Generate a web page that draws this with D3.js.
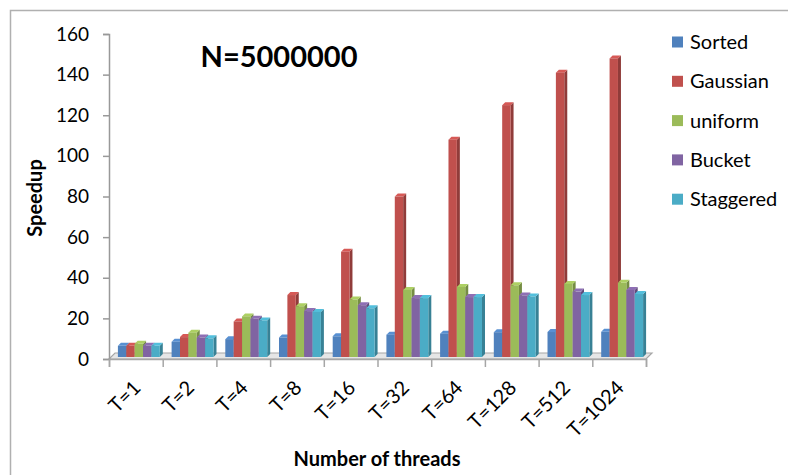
<!DOCTYPE html>
<html>
<head>
<meta charset="utf-8">
<style>
  body { margin: 0; background: white; }
  svg { display: block; font-family: Lato, "Open Sans", sans-serif; }
</style>
</head>
<body>
<svg width="788" height="475"></svg>
<script src="https://cdn.jsdelivr.net/npm/d3@7"></script>
<script>
// data
var categories = ["T=1", "T=2", "T=4", "T=8", "T=16", "T=32", "T=64", "T=128", "T=512", "T=1024"];
var seriesNames = ["Sorted", "Gaussian", "uniform", "Bucket", "Staggered"];
var sorted    = [5.5, 7.5, 8.8, 9.6, 10.2, 11, 11.5, 12.2, 12.3, 12.4];
var gaussian  = [5.5, 9.8, 17.5, 30.5, 51.8, 79, 107, 124, 140, 147];
var uniform   = [6.5, 12, 20, 25, 28.3, 33, 34.5, 35.3, 36, 36.5];
var bucket    = [5.5, 9.6, 18.8, 22.6, 25.5, 29, 29.5, 30.3, 32.2, 33];
var staggered = [5.5, 9.2, 18, 22.2, 24, 29, 29.5, 29.8, 30.5, 31];
var colors = ["#4F81BD", "#C0504D", "#9BBB59", "#8064A2", "#4BACC6"];
var yTicks = [0, 20, 40, 60, 80, 100, 120, 140, 160];

var values = [sorted, gaussian, uniform, bucket, staggered];

var svg = d3.select("svg");

// frame
svg.append("path")
    .attr("d", "M10.5,475V10.5H788")
    .attr("fill", "none")
    .attr("stroke", "#b0b0b0")
    .attr("stroke-width", 1.5);

var plotLeft = 109, plotRight = 646, plotTop = 34, plotBottom = 359;
var depth = 4;

var x = d3.scaleBand().domain(categories).range([plotLeft, plotRight])
    .paddingInner(0.22).paddingOuter(0.11);
var xs = d3.scaleBand().domain(seriesNames).range([0, x.bandwidth()]);
var y = d3.scaleLinear().domain([0, 160]).range([plotBottom, plotTop]);

// floor
svg.append("path")
    .attr("d", "M" + plotLeft + "," + plotBottom + "L" + (plotLeft + depth + 2) + "," + (plotBottom - depth - 2) +
        "H" + (plotRight + depth + 2) + "L" + plotRight + "," + plotBottom + "Z")
    .attr("fill", "#e6e6e6")
    .attr("stroke", "#a6a6a6")
    .attr("stroke-width", 1.2);

// y axis
var yAxis = svg.append("g")
    .attr("transform", "translate(" + plotLeft + ",0)")
    .call(d3.axisLeft(y).tickValues(yTicks).tickSize(6).tickPadding(14));
yAxis.select(".domain").attr("stroke", "#999").attr("stroke-width", 1.5);
yAxis.selectAll(".tick line").attr("stroke", "#999").attr("stroke-width", 1.5);
yAxis.selectAll(".tick text").attr("font-size", 19).attr("fill", "#000")
    .attr("font-family", "Lato, sans-serif");

// x axis
var xAxis = svg.append("g")
    .attr("transform", "translate(0," + plotBottom + ")")
    .call(d3.axisBottom(d3.scalePoint().domain(d3.range(11)).range([plotLeft, plotRight])).tickSize(8).tickFormat(""));
xAxis.select(".domain").attr("stroke", "#a6a6a6").attr("stroke-width", 1.5);
xAxis.selectAll(".tick line").attr("stroke", "#a6a6a6").attr("stroke-width", 1.5);

svg.append("g").selectAll("text")
    .data(categories)
    .join("text")
    .attr("transform", function(d) {
        return "translate(" + (x(d) + x.bandwidth() / 2 + 6) + "," + (plotBottom + 30) + ") rotate(-45)";
    })
    .attr("text-anchor", "end")
    .attr("font-size", 20)
    .text(function(d) { return d; });

// bars with a little 3D look
var bars = [];
categories.forEach(function(c, i) {
    seriesNames.forEach(function(s, j) {
        bars.push({cat: c, series: s, value: values[j][i], color: colors[j]});
    });
});

var g = svg.append("g").attr("transform", "translate(3,-2)");
var bw = xs.bandwidth();
var d3d = 3;

var bar = g.selectAll("g.bar")
    .data(bars)
    .join("g")
    .attr("class", "bar");

bar.append("path")
    .attr("fill", function(d) { return d3.color(d.color).darker(0.8); })
    .attr("d", function(d) {
        var x0 = x(d.cat) + xs(d.series) + bw, y0 = y(d.value), y1 = y(0);
        return "M" + x0 + "," + y0 + "l" + d3d + "," + (-d3d) + "V" + (y1 - d3d) + "L" + x0 + "," + y1 + "Z";
    });

bar.append("path")
    .attr("fill", function(d) { return d3.color(d.color).brighter(0.3); })
    .attr("d", function(d) {
        var x0 = x(d.cat) + xs(d.series), y0 = y(d.value);
        return "M" + x0 + "," + y0 + "l" + d3d + "," + (-d3d) + "h" + bw + "l" + (-d3d) + "," + d3d + "Z";
    });

bar.append("rect")
    .attr("x", function(d) { return x(d.cat) + xs(d.series); })
    .attr("y", function(d) { return y(d.value); })
    .attr("width", bw)
    .attr("height", function(d) { return y(0) - y(d.value); })
    .attr("fill", function(d) { return d.color; });

// title
svg.append("text")
    .attr("x", 279).attr("y", 67)
    .attr("text-anchor", "middle")
    .attr("font-size", 29)
    .attr("font-weight", "bold")
    .text("N=5000000");

// axis titles
svg.append("text")
    .attr("transform", "translate(42,198) rotate(-90)")
    .attr("text-anchor", "middle")
    .attr("font-size", 20)
    .attr("font-weight", "bold")
    .text("Speedup");

svg.append("text")
    .attr("x", 377).attr("y", 466)
    .attr("text-anchor", "middle")
    .attr("font-size", 20)
    .attr("font-weight", "bold")
    .text("Number of threads");

// legend
var legend = svg.append("g").selectAll("g")
    .data(seriesNames)
    .join("g")
    .attr("transform", function(d, i) { return "translate(672," + (42 + i * 39.3) + ")"; });

legend.append("rect")
    .attr("x", 0).attr("y", -5.5)
    .attr("width", 11).attr("height", 11)
    .attr("fill", function(d, i) { return colors[i]; });

legend.append("text")
    .attr("x", 18).attr("y", 0)
    .attr("dy", "0.35em")
    .attr("font-size", 20)
    .text(function(d) { return d; });
</script>
</body>
</html>
